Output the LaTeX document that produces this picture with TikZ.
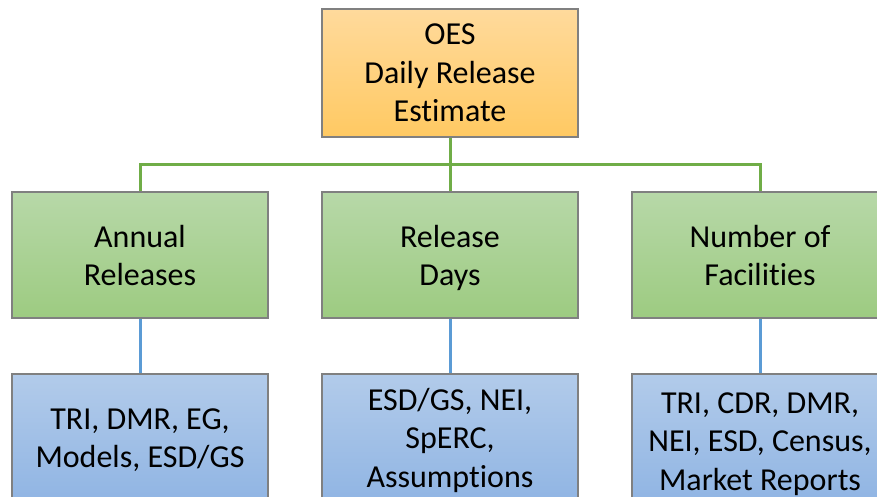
\documentclass[tikz,border=0pt]{standalone}
\usepackage{fontspec}
\setmainfont[Ligatures=NoCommon]{Carlito}
\definecolor{bordergray}{RGB}{128,128,128}
\definecolor{orangetop}{RGB}{255,218,156}
\definecolor{orangebot}{RGB}{255,201,98}
\definecolor{greentop}{RGB}{183,216,168}
\definecolor{greenbot}{RGB}{157,203,129}
\definecolor{bluetop}{RGB}{178,203,234}
\definecolor{bluebot}{RGB}{143,180,227}
\definecolor{greenline}{RGB}{112,173,71}
\definecolor{blueline}{RGB}{91,155,213}
% struts on the first and last line fix where a text block sits in its box
\newcommand\topstrut[1]{\rule{0pt}{#1pt}}
\newcommand\botstrut{\rule[-8pt]{0pt}{8pt}}
\tikzset{
  box/.style={draw=bordergray, line width=1.3pt, minimum width=256pt,
    align=center, inner sep=0pt,
    font=\fontsize{32}{38.5}\selectfont},
  topbox/.style={box, minimum height=128pt, top color=orangetop, bottom color=orangebot},
  midbox/.style={box, minimum height=126pt, top color=greentop, bottom color=greenbot},
  lowbox/.style={box, minimum height=132pt, top color=bluetop, bottom color=bluebot},
  glink/.style={draw=greenline, line width=3pt},
  blink/.style={draw=blueline, line width=3pt},
}
\begin{document}
\begin{tikzpicture}[x=1pt, y=-1pt]
\clip (0,0) rectangle (877,497);
\fill[white] (0,0) rectangle (877,497);

% junction points of the green tree
\coordinate (hub) at (450,164.5);
\coordinate (jl) at (140,164.5);
\coordinate (jr) at (760,164.5);

\node[topbox] (top) at (450,73) {\topstrut{29}OES\\Daily Release\\Estimate\botstrut};
\node[midbox] (ar) at (140,255) {\topstrut{30.5}Annual\\Releases\botstrut};
\node[midbox] (rd) at (450,255) {\topstrut{30.5}Release\\Days\botstrut};
\node[midbox] (nf) at (760,255) {\topstrut{30.5}Number of\\Facilities\botstrut};
\node[lowbox] (s1) at (140,440) {\topstrut{24.5}TRI, DMR, EG,\\Models, ESD/GS\botstrut};
\node[lowbox] (s2) at (450,440) {\topstrut{25}ESD/GS, NEI,\\SpERC,\\Assumptions\botstrut};
\node[lowbox] (s3) at (760,440) {\topstrut{31}TRI, CDR, DMR,\\NEI, ESD, Census,\\Market Reports\botstrut};

\draw[glink] (top.south) -- (hub);
\draw[glink, line cap=rect] (jl) -- (jr);
\draw[glink] (jl) -- (ar.north);
\draw[glink] (hub) -- (rd.north);
\draw[glink] (jr) -- (nf.north);
\draw[blink] (ar.south) -- (s1.north);
\draw[blink] (rd.south) -- (s2.north);
\draw[blink] (nf.south) -- (s3.north);
\end{tikzpicture}
\end{document}
